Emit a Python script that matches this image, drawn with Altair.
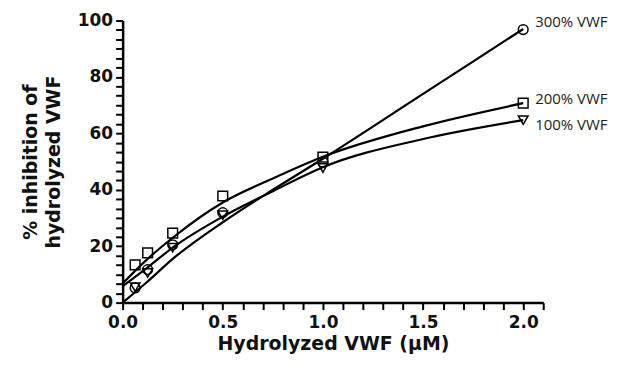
import altair as alt
import pandas as pd

# Measured points
x_pts = [0.0625, 0.125, 0.25, 0.5, 1.0, 2.0]
vwf300 = [5.2, 11.7, 20.5, 31.9, 49.8, 96.8]
vwf200 = [13.4, 17.6, 24.6, 37.8, 51.6, 70.7]
vwf100 = [5.5, 10.5, 19.5, 31.0, 47.7, 64.7]

# Fitted curves
curve_x = [0.0, 0.125, 0.25, 0.5, 0.75, 1.0, 1.5, 2.0]
curve300 = [0.0, 7.5, 15.5, 28.5, 40.0, 51.0, 74.0, 97.0]
curve200 = [6.8, 15.5, 23.0, 35.5, 44.0, 51.7, 62.5, 70.7]
curve100 = [5.8, 12.5, 19.5, 30.5, 39.5, 48.0, 58.0, 64.7]

series = ["300% VWF", "200% VWF", "100% VWF"]
shapes = ["circle", "square", "triangle-down"]

pts = pd.DataFrame(
    [{"x": x, "y": y, "series": s}
     for s, ys in zip(series, [vwf300, vwf200, vwf100])
     for x, y in zip(x_pts, ys)]
)
curves = pd.DataFrame(
    [{"x": x, "y": y, "series": s}
     for s, ys in zip(series, [curve300, curve200, curve100])
     for x, y in zip(curve_x, ys)]
)
last = pts[pts["x"] == 2.0]

xs = alt.Scale(domain=[0, 2.1], nice=False)
ys = alt.Scale(domain=[0, 100], nice=False)

x_ticks = [round(i * 0.1, 2) for i in range(22)]
y_ticks = [i * 10 / 3 for i in range(31)]

axis_style = dict(
    grid=False, labelOverlap=False, labelFlush=False,
    domainColor="#000000", domainWidth=2.5,
    tickColor="#000000", tickWidth=2, tickSize=7,
    labelFont="DejaVu Sans", labelFontWeight="bold", labelFontSize=17, labelColor="#111111",
    titleFont="DejaVu Sans", titleFontWeight="bold", titleFontSize=19, titleColor="#111111",
)

X = alt.X("x:Q", scale=xs, title="Hydrolyzed VWF (µM)",
          axis=alt.Axis(values=x_ticks, labelPadding=5, titlePadding=4,
                        labelExpr="abs(datum.value*2 - round(datum.value*2)) < 0.01 ? format(datum.value, '.1f') : ''",
                        **axis_style))
Y = alt.Y("y:Q", scale=ys, title=["% inhibition of", "hydrolyzed VWF"],
          axis=alt.Axis(values=y_ticks, labelPadding=3, titlePadding=14, titleLineHeight=23,
                        labelExpr="abs(datum.value/20 - round(datum.value/20)) < 0.01 ? format(datum.value, 'd') : ''",
                        **axis_style))

lines = alt.Chart(curves).mark_line(interpolate="monotone", color="black", strokeWidth=2.2).encode(
    x=X, y=Y, detail="series:N")

points = alt.Chart(pts).mark_point(filled=False, size=95, strokeWidth=1.5, color="black", opacity=1).encode(
    x=X, y=Y,
    shape=alt.Shape("series:N", scale=alt.Scale(domain=series, range=shapes), legend=None))

offsets = {"300% VWF": -8, "200% VWF": -4, "100% VWF": 5}
texts = []
for s in series:
    texts.append(
        alt.Chart(last[last["series"] == s]).mark_text(
            align="left", baseline="middle", dx=12, dy=offsets[s],
            font="Open Sans", fontSize=15, color="#222").encode(
            x=X, y=Y, text="series:N")
    )

chart = alt.layer(lines, points, *texts).properties(
    width=422, height=283,
    autosize=alt.AutoSizeParams(type="none"),
    padding={"left": 115, "top": 12, "right": 70, "bottom": 60},
).configure_view(stroke=None)

chart.save("out.html", embed_options={"renderer": "svg", "actions": False})
